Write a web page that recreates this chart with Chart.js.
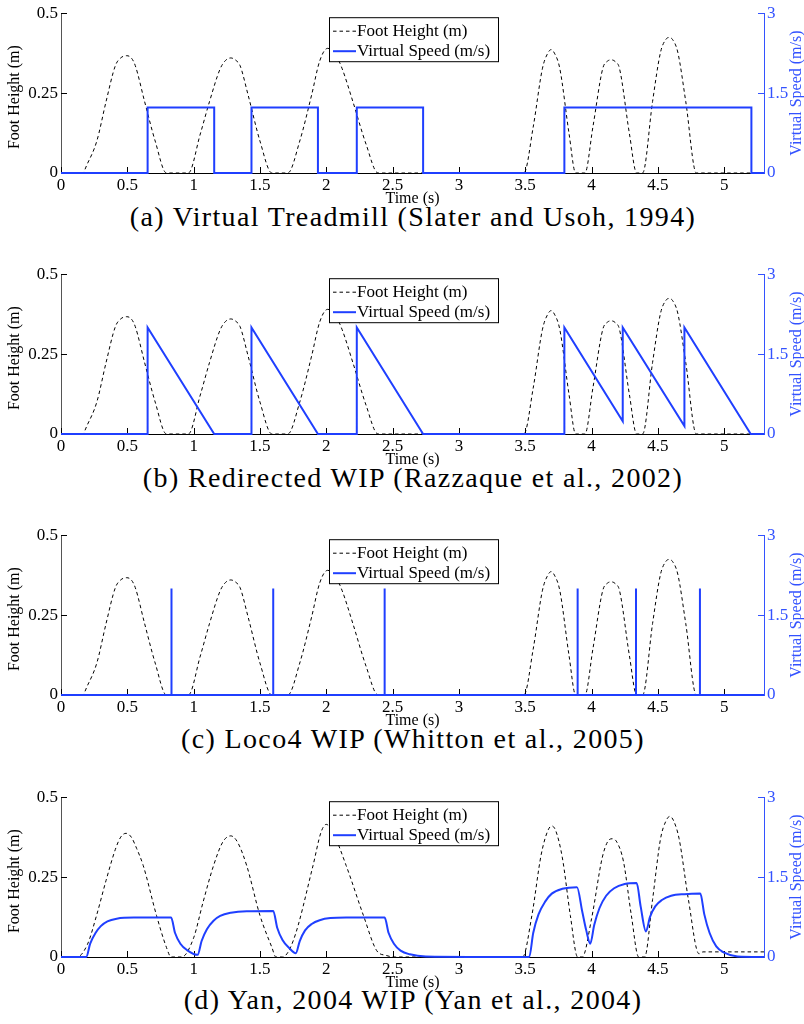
<!DOCTYPE html>
<html>
<head>
<meta charset="utf-8">
<script src="https://cdn.jsdelivr.net/npm/chart.js@4.4.1/dist/chart.umd.min.js"></script>
<style>
  body { margin: 0; background: #fff; width: 804px; height: 1024px; position: relative; overflow: hidden; }
  .panel { position: absolute; left: 0; width: 804px; height: 212px; }
  .cap {
    position: absolute; left: 0; width: 826px; text-align: center;
    font-family: 'Liberation Serif', serif; font-size: 28px; line-height: 30px;
    letter-spacing: 1.35px; color: #000; white-space: nowrap;
  }
</style>
</head>
<body>
<div class="cap" id="ca" style="top:202px"></div>
<div class="cap" id="cb" style="top:463px"></div>
<div class="cap" id="cc" style="top:724px"></div>
<div class="cap" id="cd" style="top:985px"></div>
<canvas id="pa" class="panel" style="top:0px"></canvas>
<canvas id="pb" class="panel" style="top:261px"></canvas>
<canvas id="pc" class="panel" style="top:522px"></canvas>
<canvas id="pd" class="panel" style="top:784px"></canvas>
<script>
// ---- data ----
const captions = [
  '(a) Virtual Treadmill (Slater and Usoh, 1994)',
  '(b) Redirected WIP (Razzaque et al., 2002)',
  '(c) Loco4 WIP (Whitton et al., 2005)',
  '(d) Yan, 2004 WIP (Yan et al., 2004)'
];
const footLabel = 'Foot Height (m)';
const speedLabel = 'Virtual Speed (m/s)';
const timeLabel = 'Time (s)';

const timeTicks = [0, 0.5, 1, 1.5, 2, 2.5, 3, 3.5, 4, 4.5, 5];
const footTicks = [0, 0.25, 0.5];
const speedTicks = [0, 1.5, 3];

// foot height, panels a-c
const footTime = [0, 0.16, 0.2, 0.27, 0.34, 0.41, 0.45, 0.495, 0.53, 0.56, 0.63, 0.71, 0.795,
  0.96, 1.05, 1.12, 1.2, 1.24, 1.28, 1.32, 1.35, 1.41, 1.5, 1.59,
  1.71, 1.8, 1.89, 1.95, 2.01, 2.07, 2.12, 2.2, 2.3, 2.39,
  3.49, 3.56, 3.63, 3.67, 3.695, 3.72, 3.76, 3.83, 3.88,
  3.95, 4.01, 4.085, 4.12, 4.15, 4.18, 4.21, 4.285, 4.34,
  4.385, 4.46, 4.52, 4.56, 4.585, 4.61, 4.65, 4.71, 4.79, 5.3];
const footHeight = [0, 0, 0.03, 0.10, 0.224, 0.336, 0.36, 0.367, 0.36, 0.336, 0.224, 0.10, 0,
  0, 0.122, 0.224, 0.326, 0.352, 0.36, 0.352, 0.336, 0.245, 0.10, 0,
  0, 0.10, 0.245, 0.35, 0.39, 0.37, 0.326, 0.224, 0.09, 0,
  0, 0.144, 0.328, 0.375, 0.386, 0.375, 0.328, 0.124, 0,
  0, 0.144, 0.328, 0.35, 0.354, 0.348, 0.328, 0.124, 0,
  0, 0.224, 0.378, 0.418, 0.424, 0.418, 0.378, 0.224, 0, 0];

// foot height, panel d
const footTimeD = [0, 0.12, 0.2, 0.268, 0.34, 0.41, 0.45, 0.49, 0.53, 0.57, 0.62, 0.72, 0.795, 0.83,
  0.91, 1.0, 1.07, 1.15, 1.22, 1.28, 1.33, 1.4, 1.5, 1.59, 1.62,
  1.67, 1.75, 1.9, 1.96, 2.0, 2.05, 2.15, 2.28, 2.38, 2.45, 2.52,
  3.48, 3.55, 3.62, 3.67, 3.7, 3.73, 3.78, 3.84, 3.895,
  3.93, 4.0, 4.08, 4.12, 4.155, 4.19, 4.24, 4.3, 4.355,
  4.4, 4.46, 4.52, 4.56, 4.59, 4.62, 4.66, 4.73, 4.81, 4.84, 5.3];
const footHeightD = [0, 0, 0.04, 0.13, 0.24, 0.337, 0.375, 0.387, 0.375, 0.34, 0.286, 0.13, 0.03, 0,
  0, 0.06, 0.17, 0.286, 0.36, 0.379, 0.36, 0.286, 0.13, 0.03, 0,
  0, 0.05, 0.286, 0.39, 0.415, 0.39, 0.286, 0.13, 0.02, 0.005, 0,
  0, 0.13, 0.32, 0.395, 0.41, 0.395, 0.31, 0.13, 0,
  0, 0.12, 0.31, 0.36, 0.37, 0.36, 0.3, 0.13, 0,
  0, 0.18, 0.37, 0.425, 0.44, 0.425, 0.37, 0.18, 0.01, 0.016, 0.016];

// (a) virtual treadmill
const treadTime = [0, 0.653, 0.653, 1.155, 1.155, 1.436, 1.436, 1.937, 1.937, 2.23, 2.23, 2.73, 2.73,
  3.795, 3.795, 5.205, 5.205, 5.3];
const treadSpeed = [0, 0, 1.23, 1.23, 0, 0, 1.23, 1.23, 0, 0, 1.23, 1.23, 0,
  0, 1.23, 1.23, 0, 0];

// (b) redirected WIP
const redirTime = [0, 0.653, 0.653, 1.155, 1.436, 1.436, 1.937, 2.23, 2.23, 2.73,
  3.795, 3.795, 4.235, 4.235, 4.70, 4.70, 5.2, 5.3];
const redirSpeed = [0, 0, 2.0, 0, 0, 2.0, 0, 0, 2.0, 0,
  0, 2.0, 0.24, 2.0, 0.15, 2.0, 0, 0];

// (c) Loco4 WIP
const locoTime = [0, 0.833, 0.833, 0.833, 1.6, 1.6, 1.6, 2.44, 2.44, 2.44,
  3.895, 3.895, 3.895, 4.335, 4.335, 4.335, 4.817, 4.817, 4.817, 5.3];
const locoSpeed = [0, 0, 2.0, 0, 0, 2.0, 0, 0, 2.0, 0,
  0, 2.0, 0, 0, 2.0, 0, 0, 2.0, 0, 0];

// (d) Yan 2004
const yanTime = [0, 0.19, 0.22, 0.26, 0.3, 0.35, 0.42, 0.55, 0.83, 0.86, 0.9, 0.95, 1.03,
  1.06, 1.1, 1.15, 1.2, 1.28, 1.4, 1.6, 1.63, 1.67, 1.72, 1.77,
  1.8, 1.84, 1.89, 1.95, 2.03, 2.15, 2.44, 2.47, 2.51, 2.56, 2.63, 2.75, 3.53,
  3.56, 3.6, 3.65, 3.7, 3.78, 3.89, 3.93, 3.96, 3.99,
  4.02, 4.06, 4.11, 4.17, 4.25, 4.34, 4.37, 4.41,
  4.44, 4.48, 4.53, 4.6, 4.7, 4.82, 4.85, 4.89, 4.94, 5.0, 5.1, 5.3];
const yanSpeed = [0, 0, 0.25, 0.45, 0.58, 0.67, 0.72, 0.74, 0.74, 0.45, 0.25, 0.13, 0.04,
  0.3, 0.52, 0.68, 0.77, 0.83, 0.86, 0.865, 0.55, 0.32, 0.17, 0.07,
  0.3, 0.5, 0.62, 0.69, 0.73, 0.74, 0.74, 0.45, 0.25, 0.12, 0.05, 0.01, 0,
  0.45, 0.8, 1.04, 1.19, 1.28, 1.31, 0.85, 0.5, 0.25,
  0.6, 0.92, 1.15, 1.29, 1.37, 1.39, 0.95, 0.48,
  0.75, 0.95, 1.07, 1.15, 1.18, 1.19, 0.8, 0.45, 0.2, 0.08, 0.01, 0];

// ---- drawing ----
const BLUE = '#1f3fff';
const BLUE_TEXT = '#3352ff';
const SERIF = "'Liberation Serif', serif";

const toPoints = (xs, ys) => xs.map((x, i) => ({ x: x, y: ys[i] }));
const plainLabel = v => String(v);

const decor = {
  id: 'decor',
  beforeDatasetsDraw(chart) {
    const c = chart.ctx, a = chart.chartArea;
    const sx = chart.scales.x, sy = chart.scales.y, s2 = chart.scales.y2;
    c.save();
    c.lineWidth = 1;
    c.strokeStyle = '#000';
    timeTicks.forEach(v => {
      const px = Math.round(sx.getPixelForValue(v)) + 0.5;
      c.beginPath(); c.moveTo(px, a.bottom); c.lineTo(px, a.bottom - 6); c.stroke();
    });
    footTicks.forEach(v => {
      const py = Math.round(sy.getPixelForValue(v)) + 0.5;
      c.beginPath(); c.moveTo(a.left, py); c.lineTo(a.left + 6, py); c.stroke();
    });
    c.strokeStyle = BLUE_TEXT;
    speedTicks.forEach(v => {
      const py = Math.round(s2.getPixelForValue(v)) + 0.5;
      c.beginPath(); c.moveTo(a.right, py); c.lineTo(a.right - 6, py); c.stroke();
    });
    c.restore();
  },
  afterDatasetsDraw(chart) {
    const c = chart.ctx, a = chart.chartArea;
    const midY = (a.top + a.bottom) / 2;
    c.save();
    // axis titles
    c.font = '16px ' + SERIF;
    c.textAlign = 'center';
    c.textBaseline = 'middle';
    c.fillStyle = '#000';
    c.save(); c.translate(15, midY + 4); c.rotate(-Math.PI / 2); c.fillText(footLabel, 0, 0); c.restore();
    c.fillStyle = BLUE_TEXT;
    c.save(); c.translate(797, midY); c.rotate(-Math.PI / 2); c.fillText(speedLabel, 0, 0); c.restore();
    c.fillStyle = '#000';
    c.fillText(timeLabel, (a.left + a.right) / 2, a.bottom + 26);
    // legend box
    const bx = 329, by = a.top + 4, bw = 169, bh = 44;
    c.fillStyle = '#fff';
    c.fillRect(bx, by, bw, bh);
    c.strokeStyle = '#000';
    c.lineWidth = 1;
    c.strokeRect(bx + 0.5, by + 0.5, bw, bh);
    c.setLineDash([3.5, 3]);
    c.beginPath(); c.moveTo(333, by + 14); c.lineTo(356, by + 14); c.stroke();
    c.setLineDash([]);
    c.strokeStyle = BLUE; c.lineWidth = 2;
    c.beginPath(); c.moveTo(333, by + 34); c.lineTo(356, by + 34); c.stroke();
    c.font = '17px ' + SERIF;
    c.textAlign = 'left';
    c.fillStyle = '#000';
    c.fillText(footLabel, 357, by + 14);
    c.fillText(speedLabel, 357, by + 34);
    c.restore();
  }
};

function makePanel(id, fTime, fHeight, sTime, sSpeed, smooth) {
  return new Chart(document.getElementById(id), {
    type: 'line',
    data: {
      datasets: [{
        label: speedLabel,
        data: toPoints(sTime, sSpeed),
        yAxisID: 'y2',
        borderColor: BLUE,
        borderWidth: 2,
        pointRadius: 0,
        cubicInterpolationMode: smooth ? 'monotone' : 'default',
        tension: 0,
        clip: false,
        order: 0
      }, {
        label: footLabel,
        data: toPoints(fTime, fHeight),
        yAxisID: 'y',
        borderColor: '#000',
        borderWidth: 1,
        borderDash: [3.5, 3],
        pointRadius: 0,
        cubicInterpolationMode: 'monotone',
        clip: false,
        order: 1
      }]
    },
    options: {
      responsive: false,
      animation: false,
      events: [],
      layout: { padding: { top: 10, bottom: 8, left: 0, right: 0 } },
      plugins: { legend: { display: false }, tooltip: { enabled: false } },
      scales: {
        x: {
          type: 'linear', min: 0, max: 5.3,
          afterBuildTicks: s => { s.ticks = timeTicks.map(v => ({ value: v })); },
          afterFit: s => { s.height = 31; },
          ticks: { font: { family: SERIF, size: 17 }, color: '#000', padding: 2, maxRotation: 0, callback: plainLabel },
          grid: { drawOnChartArea: false, drawTicks: false },
          border: { color: '#000', width: 1 }
        },
        y: {
          position: 'left', min: 0, max: 0.5,
          afterBuildTicks: s => { s.ticks = footTicks.map(v => ({ value: v })); },
          afterFit: s => { s.width = 61; },
          ticks: { font: { family: SERIF, size: 17 }, color: '#000', padding: 3, callback: plainLabel },
          grid: { drawOnChartArea: false, drawTicks: false },
          border: { color: '#555', width: 1 }
        },
        y2: {
          position: 'right', min: 0, max: 3,
          afterBuildTicks: s => { s.ticks = speedTicks.map(v => ({ value: v })); },
          afterFit: s => { s.width = 40; },
          ticks: { font: { family: SERIF, size: 17 }, color: BLUE_TEXT, padding: 3, callback: plainLabel },
          grid: { drawOnChartArea: false, drawTicks: false },
          border: { color: BLUE_TEXT, width: 1 }
        }
      }
    },
    plugins: [decor]
  });
}

['pa', 'pb', 'pc', 'pd'].forEach(id => {
  const cv = document.getElementById(id);
  cv.width = 804; cv.height = 212;
});

makePanel('pa', footTime, footHeight, treadTime, treadSpeed, false);
makePanel('pb', footTime, footHeight, redirTime, redirSpeed, false);
makePanel('pc', footTime, footHeight, locoTime, locoSpeed, false);
makePanel('pd', footTimeD, footHeightD, yanTime, yanSpeed, true);

['ca', 'cb', 'cc', 'cd'].forEach((id, i) => {
  document.getElementById(id).textContent = captions[i];
});
</script>
</body>
</html>
